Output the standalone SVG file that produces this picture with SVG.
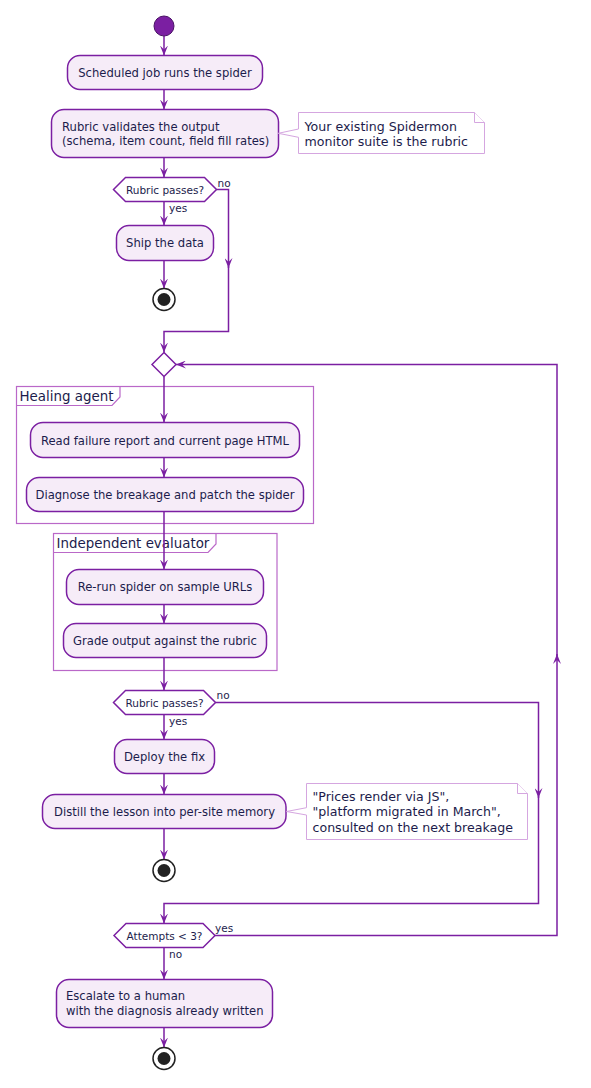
<svg xmlns="http://www.w3.org/2000/svg" width="591" height="1088" viewBox="0 0 591 1088">
<style>
text{font-family:"DejaVu Sans","Verdana",sans-serif;fill:#1c1c4c}
.act{fill:#F6ECF8;stroke:#7B1FA2;stroke-width:1.5}
.dec{fill:#ffffff;stroke:#7B1FA2;stroke-width:1.5}
.t{font-size:11.6px}
.tc{font-size:11.6px;text-anchor:middle}
.d{font-size:10.5px;text-anchor:middle}
.l{font-size:10.5px}
.n{font-size:12.6px}
.frame{fill:none;stroke:#BA68C8;stroke-width:1.2}
.ft{font-size:13.4px}
.note{fill:#ffffff;stroke:#D5A6E0;stroke-width:1}
.edge{fill:none;stroke:#7B1FA2;stroke-width:1.5}
.end{fill:#ffffff;stroke:#222222;stroke-width:1.5}
</style>
<defs>
<marker id="ah" viewBox="0 0 10 8" refX="10" refY="4" markerWidth="10" markerHeight="8" markerUnits="userSpaceOnUse" orient="auto">
<path d="M0,0 L10,4 L0,8 L4,4 Z" fill="#7B1FA2"/>
</marker>
</defs>

<g id="frame-healing">
<rect class="frame" x="16.5" y="386.5" width="297" height="137"/>
<path class="frame" d="M16.5,405.5 H112 L120,397 V386.5"/>
<text class="ft" x="19.5" y="401">Healing agent</text>
</g>
<g id="frame-evaluator">
<rect class="frame" x="53.5" y="533.5" width="223.5" height="137"/>
<path class="frame" d="M53.5,552.5 H208 L216,544 V533.5"/>
<text class="ft" x="56.5" y="548">Independent evaluator</text>
</g>

<g id="connectors">
<path class="edge" marker-end="url(#ah)" d="M164,36 V55.5"/>
<path class="edge" marker-end="url(#ah)" d="M164,89.5 V109.5"/>
<path class="edge" marker-end="url(#ah)" d="M164,157.5 V177.5"/>
<path class="edge" marker-end="url(#ah)" d="M164,201.5 V225.5"/>
<path class="edge" marker-end="url(#ah)" d="M164,260.5 V288.5"/>
<path class="edge" marker-end="url(#ah)" d="M216.5,189.5 H228.5 V268"/>
<path class="edge" marker-end="url(#ah)" d="M228.5,266 V331.5 H164 V352.5"/>
<path class="edge" marker-end="url(#ah)" d="M164,376.5 V422.5"/>
<path class="edge" marker-end="url(#ah)" d="M164,457.5 V477.5"/>
<path class="edge" marker-end="url(#ah)" d="M164,511.5 V569.5"/>
<path class="edge" marker-end="url(#ah)" d="M164,604.5 V623.5"/>
<path class="edge" marker-end="url(#ah)" d="M164,657.5 V690.5"/>
<path class="edge" marker-end="url(#ah)" d="M215.5,702.5 H538.5 V798"/>
<path class="edge" marker-end="url(#ah)" d="M538.5,796 V903.5 H164 V923.5"/>
<path class="edge" marker-end="url(#ah)" d="M164,714.5 V739.5"/>
<path class="edge" marker-end="url(#ah)" d="M164,773.5 V794.5"/>
<path class="edge" marker-end="url(#ah)" d="M164,828.5 V859.5"/>
<path class="edge" marker-end="url(#ah)" d="M215,935.5 H557 V654"/>
<path class="edge" marker-end="url(#ah)" d="M557,656 V364.5 H176"/>
<path class="edge" marker-end="url(#ah)" d="M164,947.5 V979.5"/>
<path class="edge" marker-end="url(#ah)" d="M164,1027.5 V1047.5"/>
<text class="l" x="217.5" y="187">no</text>
<text class="l" x="169" y="212">yes</text>
<text class="l" x="216.5" y="699">no</text>
<text class="l" x="169" y="725">yes</text>
<text class="l" x="215" y="932">yes</text>
<text class="l" x="169" y="958">no</text>
</g>

<g id="start">
<circle cx="164" cy="26" r="10" fill="#7B1FA2" stroke="#4A1366" stroke-width="1"/>
</g>
<g id="scheduled">
<rect class="act" x="67.5" y="55.5" width="195" height="34" rx="12.5"/>
<text class="tc" x="165" y="76.5">Scheduled job runs the spider</text>
</g>
<g id="validate">
<rect class="act" x="51.5" y="109.5" width="227" height="48" rx="12.5"/>
<text class="t" x="62" y="131">Rubric validates the output</text>
<text class="t" x="62" y="145">(schema, item count, field fill rates)</text>
</g>
<g id="note-rubric">
<path class="note" d="M278.3,133.3 L298.5,129 V112.5 H474.5 L484.5,122.5 V153.5 H298.5 V137.3 Z"/>
<path class="note" d="M474.5,112.5 V122.5 H484.5"/>
<text class="n" x="304.5" y="131.3">Your existing Spidermon</text>
<text class="n" x="304.5" y="146.3">monitor suite is the rubric</text>
</g>
<g id="decision1">
<polygon class="dec" points="113.5,189.5 125.5,177.5 204.5,177.5 216.5,189.5 204.5,201.5 125.5,201.5"/>
<text class="d" x="165" y="194">Rubric passes?</text>
</g>
<g id="ship">
<rect class="act" x="116.5" y="225.5" width="97" height="35" rx="12.5"/>
<text class="tc" x="165" y="247">Ship the data</text>
</g>
<g id="end1">
<circle class="end" cx="164" cy="299.5" r="11"/>
<circle cx="164" cy="299.5" r="6.5" fill="#222222"/>
</g>
<g id="merge">
<polygon class="dec" points="164,352.5 176,364.5 164,376.5 152,364.5"/>
</g>
<g id="read">
<rect class="act" x="30.5" y="422.5" width="269" height="35" rx="12.5"/>
<text class="tc" x="165" y="444.5">Read failure report and current page HTML</text>
</g>
<g id="diagnose">
<rect class="act" x="26.5" y="477.5" width="277" height="34" rx="12.5"/>
<text class="tc" x="165" y="499">Diagnose the breakage and patch the spider</text>
</g>
<g id="rerun">
<rect class="act" x="66.5" y="569.5" width="197" height="35" rx="12.5"/>
<text class="tc" x="165" y="591">Re-run spider on sample URLs</text>
</g>
<g id="grade">
<rect class="act" x="63.5" y="623.5" width="203" height="34" rx="12.5"/>
<text class="tc" x="165" y="645">Grade output against the rubric</text>
</g>
<g id="decision2">
<polygon class="dec" points="113.5,702.5 125.5,690.5 203.5,690.5 215.5,702.5 203.5,714.5 125.5,714.5"/>
<text class="d" x="164.5" y="707">Rubric passes?</text>
</g>
<g id="deploy">
<rect class="act" x="114.5" y="739.5" width="100" height="34" rx="12.5"/>
<text class="tc" x="164.5" y="761">Deploy the fix</text>
</g>
<g id="distill">
<rect class="act" x="42.5" y="794.5" width="243.5" height="34" rx="12.5"/>
<text class="tc" x="164.5" y="816">Distill the lesson into per-site memory</text>
</g>
<g id="note-memory">
<path class="note" d="M286.5,811.5 L306.5,807.7 V783.5 H517.5 L527.5,793.5 V839.5 H306.5 V815 Z"/>
<path class="note" d="M517.5,783.5 V793.5 H527.5"/>
<text class="n" x="312.5" y="801">"Prices render via JS",</text>
<text class="n" x="312.5" y="816">"platform migrated in March",</text>
<text class="n" x="312.5" y="831.5">consulted on the next breakage</text>
</g>
<g id="end2">
<circle class="end" cx="164" cy="870.5" r="11"/>
<circle cx="164" cy="870.5" r="6.5" fill="#222222"/>
</g>
<g id="attempts">
<polygon class="dec" points="114,935.5 126,923.5 203,923.5 215,935.5 203,947.5 126,947.5"/>
<text class="d" x="164.5" y="940">Attempts &lt; 3?</text>
</g>
<g id="escalate">
<rect class="act" x="56.5" y="979.5" width="216" height="48" rx="12.5"/>
<text class="t" x="66" y="1000">Escalate to a human</text>
<text class="t" x="66" y="1014.5">with the diagnosis already written</text>
</g>
<g id="end3">
<circle class="end" cx="164" cy="1058.5" r="11"/>
<circle cx="164" cy="1058.5" r="6.5" fill="#222222"/>
</g>
</svg>
